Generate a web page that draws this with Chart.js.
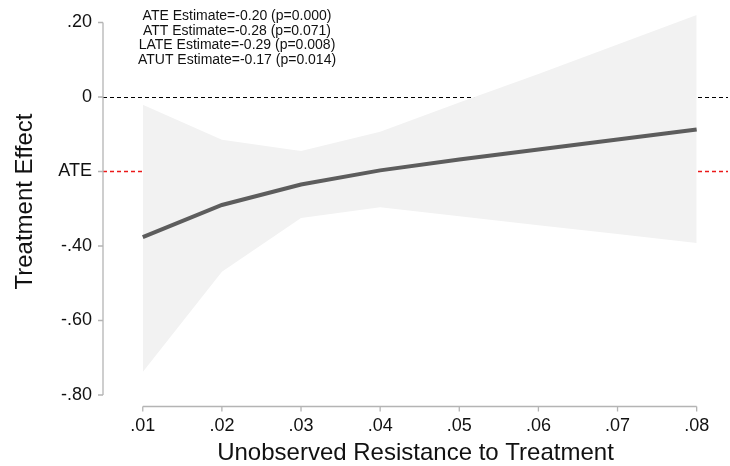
<!DOCTYPE html>
<html>
<head>
<meta charset="utf-8">
<script src="https://cdn.jsdelivr.net/npm/chart.js@4.4.1/dist/chart.umd.min.js"></script>
<style>
  html, body { margin: 0; padding: 0; background: #ffffff; }
  #wrap { width: 730px; height: 466px; position: relative; }
</style>
</head>
<body>
<div id="wrap"><canvas id="mteChart" width="730" height="466"></canvas></div>
<script>
// Values
const resistance = [0.01, 0.02, 0.03, 0.04, 0.05, 0.06, 0.07, 0.08];
const effect     = [-0.376, -0.29, -0.235, -0.197, -0.168, -0.141, -0.114, -0.087];
const ciUpper    = [-0.021, -0.115, -0.145, -0.093, -0.015, 0.062, 0.141, 0.22];
const ciLower    = [-0.738, -0.469, -0.325, -0.296, -0.32, -0.344, -0.368, -0.392];

const ateValue = -0.20;

const xTickValues = [0.01, 0.02, 0.03, 0.04, 0.05, 0.06, 0.07, 0.08];
const xTickLabels = ['.01', '.02', '.03', '.04', '.05', '.06', '.07', '.08'];
const yTickValues = [0.2, 0, -0.2, -0.4, -0.6, -0.8];
const yTickLabels = ['.20', '0', 'ATE', '-.40', '-.60', '-.80'];

const estimateLines = [
    'ATE Estimate=-0.20 (p=0.000)',
    'ATT Estimate=-0.28 (p=0.071)',
    'LATE Estimate=-0.29 (p=0.008)',
    'ATUT Estimate=-0.17 (p=0.014)'
];

const FONT = '"Liberation Sans", Arial, Helvetica, sans-serif';
const AXIS_GREY = '#b4b4b4';

function toPoints(ys) {
    return resistance.map((x, i) => ({ x: x, y: ys[i] }));
}

function labelFor(values, labels, v) {
    const i = values.findIndex(t => Math.abs(t - v) < 1e-9);
    return i >= 0 ? labels[i] : '';
}

// Dashed reference lines (0 and ATE), drawn under the band
const refLines = {
    id: 'refLines',
    beforeDatasetsDraw(chart) {
        const { ctx, chartArea } = chart;
        const y = chart.scales.y;
        const lines = [
            { value: 0, color: '#000000', width: 1 },
            { value: ateValue, color: 'rgb(235, 25, 25)', width: 1.5 }
        ];
        ctx.save();
        ctx.setLineDash([4, 3]);
        lines.forEach(l => {
            const py = Math.round(y.getPixelForValue(l.value)) + 0.5;
            ctx.lineWidth = l.width;
            ctx.strokeStyle = l.color;
            ctx.beginPath();
            ctx.moveTo(chartArea.left, py);
            ctx.lineTo(chartArea.right, py);
            ctx.stroke();
        });
        ctx.restore();
    }
};

// Stata-style axes: detached x axis, y axis spanning only the tick range
const stataAxes = {
    id: 'stataAxes',
    afterDraw(chart) {
        const { ctx } = chart;
        const x = chart.scales.x;
        const y = chart.scales.y;
        ctx.save();
        ctx.strokeStyle = AXIS_GREY;
        ctx.lineWidth = 1.3;
        ctx.setLineDash([]);

        // y axis
        const ax = 103;
        ctx.beginPath();
        ctx.moveTo(ax, y.getPixelForValue(yTickValues[0]));
        ctx.lineTo(ax, y.getPixelForValue(yTickValues[yTickValues.length - 1]));
        yTickValues.forEach(v => {
            const py = y.getPixelForValue(v);
            ctx.moveTo(ax, py);
            ctx.lineTo(ax - 5, py);
        });
        ctx.stroke();

        // x axis
        const ay = 406.5;
        ctx.beginPath();
        ctx.moveTo(x.getPixelForValue(xTickValues[0]), ay);
        ctx.lineTo(x.getPixelForValue(xTickValues[xTickValues.length - 1]), ay);
        xTickValues.forEach(v => {
            const px = x.getPixelForValue(v);
            ctx.moveTo(px, ay);
            ctx.lineTo(px, ay + 5);
        });
        ctx.stroke();

        // estimates text block
        ctx.fillStyle = '#111111';
        ctx.font = '14px ' + FONT;
        ctx.textAlign = 'center';
        ctx.textBaseline = 'middle';
        estimateLines.forEach((t, i) => {
            ctx.fillText(t, 237, 16.5 + i * 14.5);
        });
        ctx.restore();
    }
};

const ctx = document.getElementById('mteChart').getContext('2d');
new Chart(ctx, {
    type: 'line',
    data: {
        datasets: [
            {
                label: 'Main',
                data: toPoints(effect),
                borderColor: '#5d5d5d',
                borderWidth: 4,
                pointRadius: 0,
                fill: false,
                tension: 0,
                order: 1
            },
            {
                label: 'Upper',
                data: toPoints(ciUpper),
                borderWidth: 0,
                borderColor: 'rgba(0,0,0,0)',
                backgroundColor: '#f2f2f2',
                pointRadius: 0,
                fill: '+1',
                tension: 0,
                order: 5
            },
            {
                label: 'Lower',
                data: toPoints(ciLower),
                borderWidth: 0,
                borderColor: 'rgba(0,0,0,0)',
                pointRadius: 0,
                fill: false,
                tension: 0,
                order: 6
            }
        ]
    },
    options: {
        responsive: false,
        animation: false,
        events: [],
        layout: { padding: { top: 8, right: 2, left: 0, bottom: 0 } },
        scales: {
            x: {
                type: 'linear',
                min: 0.004975,
                max: 0.08396,
                border: { display: false },
                grid: { display: false, drawTicks: false },
                afterBuildTicks(scale) {
                    scale.ticks = xTickValues.map(v => ({ value: v }));
                },
                afterFit(scale) {
                    scale.height = 71;
                    scale.paddingLeft = 0;
                    scale.paddingRight = 0;
                },
                ticks: {
                    autoSkip: false,
                    maxRotation: 0,
                    padding: 20,
                    color: '#111111',
                    font: { family: FONT, size: 18 },
                    callback: v => labelFor(xTickValues, xTickLabels, v)
                },
                title: {
                    display: true,
                    text: 'Unobserved Resistance to Treatment',
                    color: '#111111',
                    font: { family: FONT, size: 24 },
                    padding: { top: 0, bottom: -2 }
                }
            },
            y: {
                type: 'linear',
                min: -0.8,
                max: 0.2389,
                border: { display: false },
                grid: { display: false, drawTicks: false },
                afterBuildTicks(scale) {
                    scale.ticks = yTickValues.map(v => ({ value: v }));
                },
                afterFit(scale) {
                    scale.width = 103;
                    scale.paddingTop = 0;
                    scale.paddingBottom = 0;
                },
                ticks: {
                    autoSkip: false,
                    padding: 11,
                    color: '#111111',
                    font: { family: FONT, size: 18 },
                    callback: v => labelFor(yTickValues, yTickLabels, v)
                },
                title: {
                    display: true,
                    text: 'Treatment Effect',
                    color: '#111111',
                    font: { family: FONT, size: 24 },
                    padding: { top: 11, bottom: 0 }
                }
            }
        },
        plugins: {
            legend: { display: false },
            tooltip: { enabled: false }
        }
    },
    plugins: [refLines, stataAxes]
});
</script>
</body>
</html>
